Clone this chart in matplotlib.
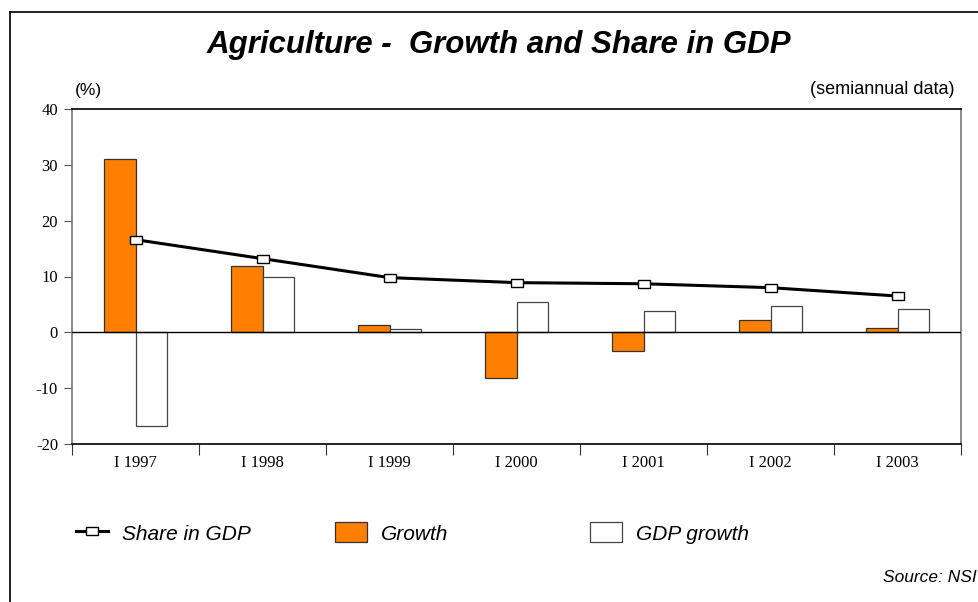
import numpy as np
import matplotlib
matplotlib.use("Agg")
import matplotlib.pyplot as plt
from matplotlib.lines import Line2D
from matplotlib.patches import Patch

periods = ["I 1997", "I 1998", "I 1999", "I 2000", "I 2001", "I 2002", "I 2003"]
growth = [31.0, 11.8, 1.3, -8.2, -3.3, 2.2, 0.7]
gdp_growth = [-16.8, 10.0, 0.6, 5.5, 3.8, 4.7, 4.2]
share_gdp = [16.6, 13.2, 9.8, 8.9, 8.7, 8.0, 6.5]
y_ticks = [-20, -10, 0, 10, 20, 30, 40]

orange = "#FF8000"
sans = ["Liberation Sans", "DejaVu Sans"]
serif = ["Liberation Serif", "DejaVu Serif"]

fig = plt.figure(figsize=(9.79, 6.02), dpi=100)
ax = fig.add_axes([72 / 979, 158 / 602, 889 / 979, 335 / 602])

x = np.arange(len(periods))
w = 0.25
ax.bar(x - w / 2, growth, w, color=orange, edgecolor="#333333", linewidth=0.9, zorder=2)
ax.bar(x + w / 2, gdp_growth, w, color="white", edgecolor="#444444", linewidth=0.9, zorder=2)

# horizontal rectangle marker for the share line
rect = [(-1.7, -1), (1.7, -1), (1.7, 1), (-1.7, 1), (-1.7, -1)]
ax.plot(x, share_gdp, color="black", lw=2.2, marker=rect, ms=9,
        mfc="white", mec="black", mew=1.0, zorder=4)

ax.axhline(0, color="black", lw=1.0, zorder=3)

ax.set_xlim(-0.5, len(periods) - 0.5)
ax.set_ylim(-20, 40)
ax.set_yticks(y_ticks)
ax.set_yticklabels([str(v) for v in y_ticks], family=serif, fontsize=12)
ax.tick_params(axis="y", direction="out", length=6, color="#555555", pad=4)

ax.set_xticks(np.arange(len(periods) + 1) - 0.5)
ax.set_xticklabels([])
ax.tick_params(axis="x", which="major", direction="out", length=8, color="#333333")
ax.set_xticks(x, minor=True)
ax.set_xticklabels(periods, minor=True, family=serif, fontsize=12)
ax.tick_params(axis="x", which="minor", length=0, pad=8)

ax.spines["left"].set_color("#777777")
ax.spines["right"].set_color("#777777")
ax.spines["top"].set_color("black")
ax.spines["bottom"].set_color("black")
for s in ax.spines.values():
    s.set_linewidth(1.2)

# outer frame (cut at the right and bottom)
fig.add_artist(Line2D([10 / 979, 10 / 979], [0, 1 - 12 / 602], color="black", lw=1.2))
fig.add_artist(Line2D([10 / 979, 1], [1 - 12 / 602, 1 - 12 / 602], color="black", lw=1.2))

fig.text(499 / 979, 1 - 45 / 602, "Agriculture -  Growth and Share in GDP", ha="center", va="center",
         fontsize=22.5, fontweight="bold", fontstyle="italic", family=sans)
fig.text(75 / 979, 1 - 90 / 602, "(%)", ha="left", va="center", fontsize=12.5, family=sans)
fig.text(955 / 979, 1 - 90 / 602, "(semiannual data)", ha="right", va="center", fontsize=13, family=sans)
fig.text(977 / 979, 1 - 577 / 602, "Source: NSI", ha="right", va="center", fontsize=12.5,
         fontstyle="italic", family=sans)

# legend: three fixed columns like the original
legend_items = [
    (Line2D([], [], color="black", lw=2.2, marker=rect, ms=9, mfc="white", mec="black", mew=1.0),
     "Share in GDP", 76),
    (Patch(facecolor=orange, edgecolor="#333333", lw=0.9), "Growth", 335),
    (Patch(facecolor="white", edgecolor="#444444", lw=0.9), "GDP growth", 590),
]
for handle, label, xpos in legend_items:
    fig.legend([handle], [label], loc="center left",
               bbox_to_anchor=(xpos / 979, 1 - 533 / 602),
               frameon=False, borderpad=0, borderaxespad=0,
               handlelength=1.55, handleheight=1.1, handletextpad=0.65,
               prop={"family": sans, "style": "italic", "size": 15})

fig.savefig("out.png", dpi=100)
